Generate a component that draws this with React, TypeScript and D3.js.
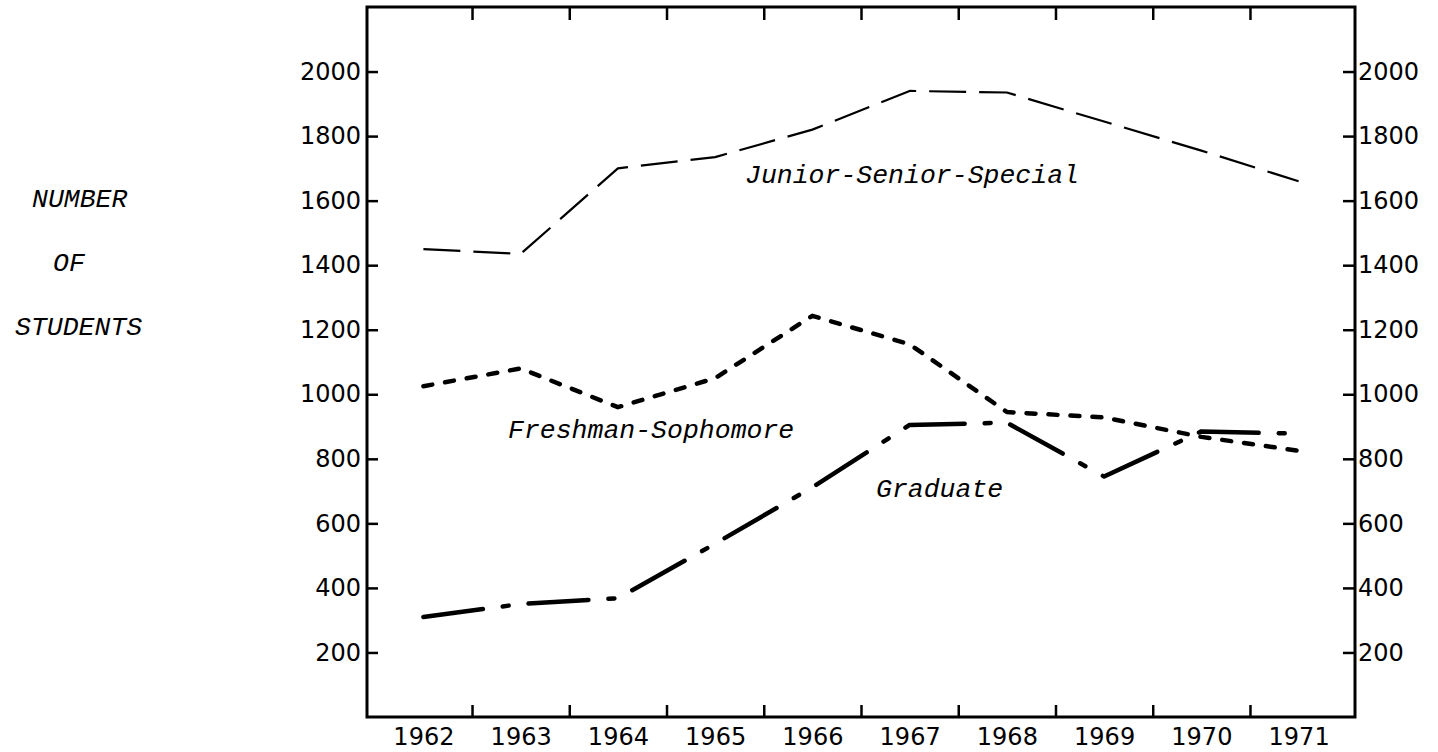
import React, { useRef, useEffect } from 'react';
import * as d3 from 'd3';

// enrollment by class level
const years = [1962, 1963, 1964, 1965, 1966, 1967, 1968, 1969, 1970, 1971];
const juniorSeniorSpecial = [1450, 1435, 1700, 1735, 1820, 1940, 1935, 1845, 1755, 1660];
const freshmanSophomore = [1025, 1080, 960, 1050, 1243, 1155, 945, 928, 868, 825];
const graduate = [310, 350, 368, 537, 712, 905, 912, 745, 885, 878];
const yTickValues = [200, 400, 600, 800, 1000, 1200, 1400, 1600, 1800, 2000];
const yTitle = ['NUMBER', 'OF', 'STUDENTS'];

const W = 1438;
const H = 752;
const TICK_FONT = '"DejaVu Sans", sans-serif';
const TYPE_FONT = '"Liberation Mono", "Courier New", monospace';

const App = () => {
  const svgRef = useRef<SVGSVGElement>(null);

  useEffect(() => {
    const svg = d3.select(svgRef.current);
    svg.selectAll('*').remove();

    const x = d3.scaleLinear().domain([1961.42, 1971.58]).range([367, 1355]);
    const y = d3.scaleLinear().domain([0, 2200]).range([717, 7]);
    const [x0, x1] = x.range();
    const [y0, y1] = y.range();
    const bounds = years.slice(0, -1).map(d => d + 0.5);
    const fmt = d3.format('d');

    // frame
    svg
      .append('rect')
      .attr('x', x0)
      .attr('y', y1)
      .attr('width', x1 - x0)
      .attr('height', y0 - y1)
      .attr('fill', 'none')
      .attr('stroke', '#000')
      .attr('stroke-width', 3);

    const style = g => {
      g.select('.domain').remove();
      g.selectAll('line').attr('stroke', '#000').attr('stroke-width', 2.5);
      g.selectAll('text')
        .attr('fill', '#000')
        .attr('font-family', TICK_FONT)
        .attr('font-size', 24);
    };

    // y axes, ticks pointing inward
    svg
      .append('g')
      .attr('transform', `translate(${x0},0)`)
      .call(d3.axisLeft(y).tickValues(yTickValues).tickSize(-11).tickPadding(6).tickFormat(fmt))
      .call(style);
    svg
      .append('g')
      .attr('transform', `translate(${x1},0)`)
      .call(d3.axisRight(y).tickValues(yTickValues).tickSize(-12).tickPadding(3).tickFormat(fmt))
      .call(style);

    // x ticks between years, top and bottom
    svg
      .append('g')
      .attr('transform', `translate(0,${y1})`)
      .call(d3.axisTop(x).tickValues(bounds).tickSize(-13).tickFormat(() => ''))
      .call(style);
    svg
      .append('g')
      .attr('transform', `translate(0,${y0})`)
      .call(d3.axisBottom(x).tickValues(bounds).tickSize(-12).tickFormat(() => ''))
      .call(style);
    svg
      .append('g')
      .attr('transform', `translate(0,${y0})`)
      .call(d3.axisBottom(x).tickValues(years).tickSize(0).tickPadding(11).tickFormat(fmt))
      .call(style);

    const line = d3
      .line<number>()
      .x((d, i) => x(years[i]))
      .y(d => y(d));

    const series = [
      { values: juniorSeniorSpecial, width: 2.2, dash: '37,13', cap: 'butt' },
      { values: freshmanSophomore, width: 4.5, dash: '9,13', cap: 'round' },
      { values: graduate, width: 4.5, dash: '60,20,6,20', cap: 'round' },
    ];

    svg
      .selectAll('.series')
      .data(series)
      .join('path')
      .attr('class', 'series')
      .attr('d', d => line(d.values))
      .attr('fill', 'none')
      .attr('stroke', '#000')
      .attr('stroke-width', d => d.width)
      .attr('stroke-dasharray', d => d.dash)
      .attr('stroke-linecap', d => d.cap)
      .attr('stroke-linejoin', 'round');

    // typewriter labels
    const labels = [
      { text: 'Junior-Senior-Special', x: 745, y: 183 },
      { text: 'Freshman-Sophomore', x: 508, y: 438 },
      { text: 'Graduate', x: 876, y: 497 },
      { text: yTitle[0], x: 32, y: 207 },
      { text: yTitle[1], x: 53, y: 271 },
      { text: yTitle[2], x: 15, y: 335 },
    ];

    svg
      .selectAll('.label')
      .data(labels)
      .join('text')
      .attr('class', 'label')
      .attr('x', d => d.x)
      .attr('y', d => d.y)
      .attr('font-family', TYPE_FONT)
      .attr('font-style', 'italic')
      .attr('font-size', 26.5)
      .attr('fill', '#000')
      .text(d => d.text);
  }, []);

  return (
    <svg
      ref={svgRef}
      width={W}
      height={H}
      style={{ position: 'absolute', left: 0, top: 0, background: '#fff' }}
    />
  );
};

export default App;
